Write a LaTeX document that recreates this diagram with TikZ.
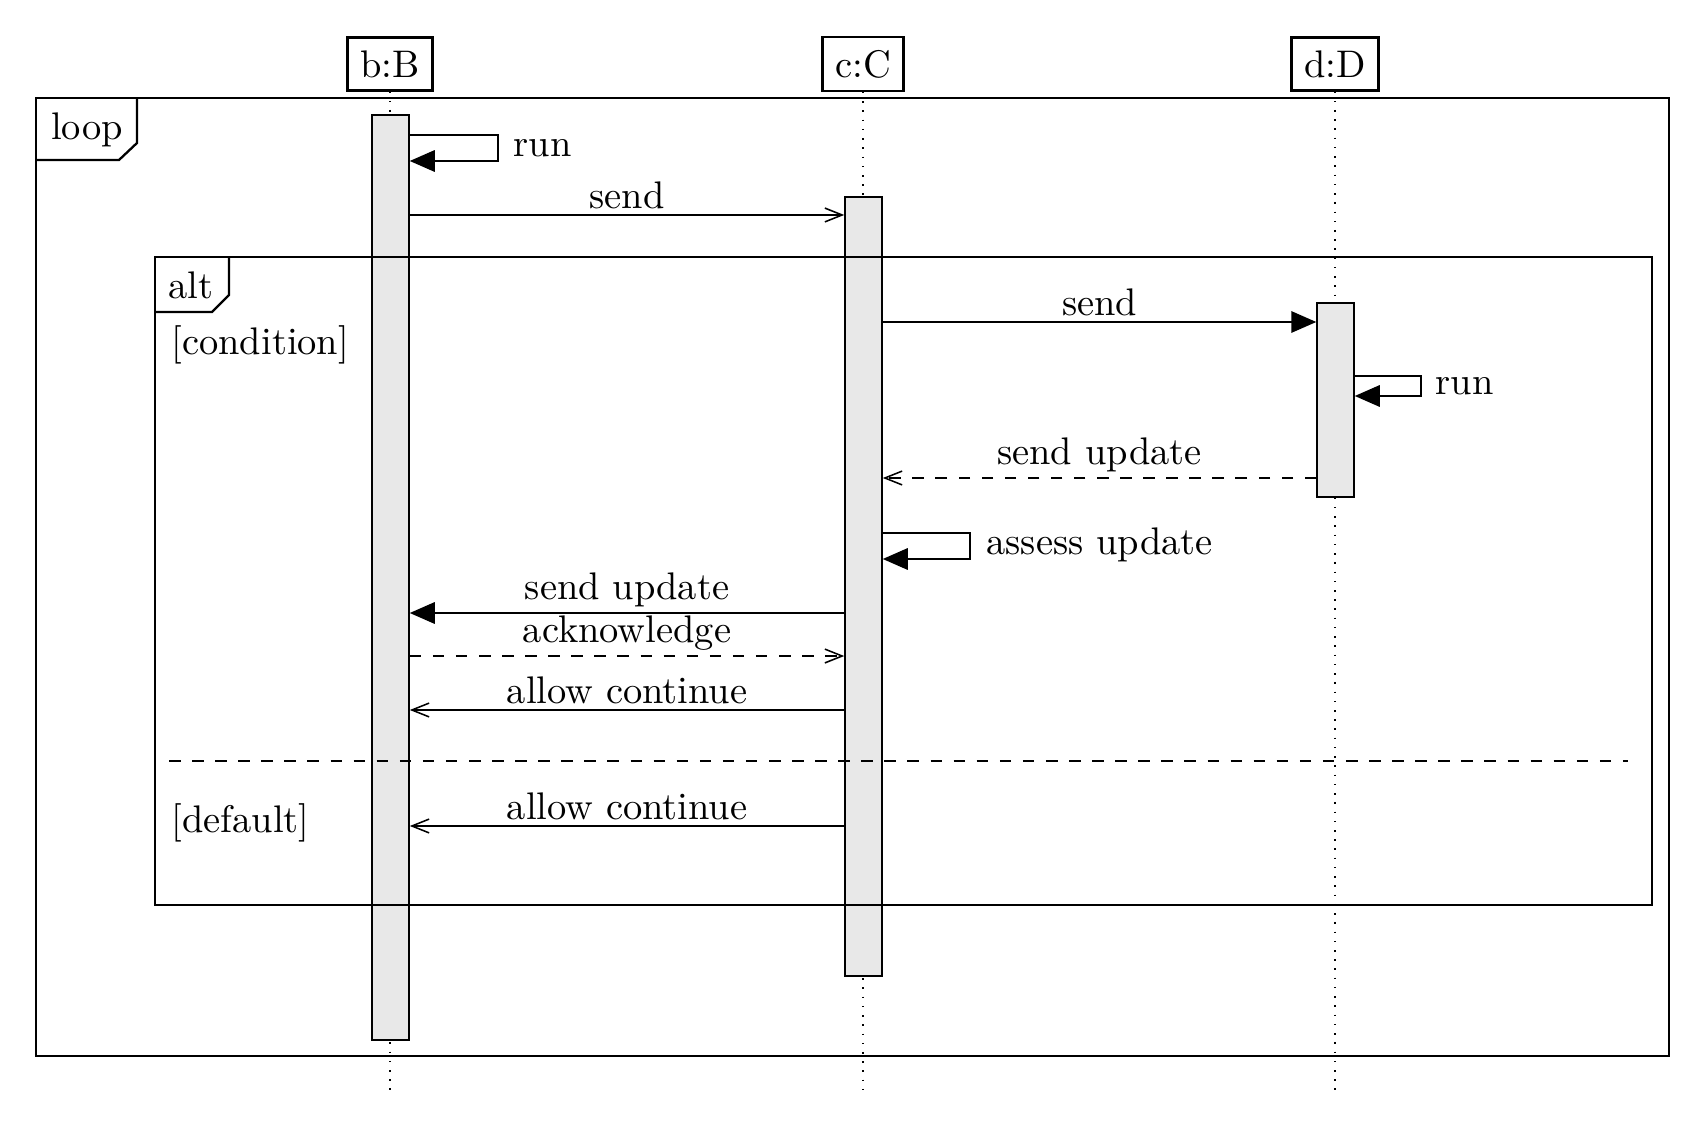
\documentclass[tikz,border=0pt]{standalone}
\usetikzlibrary{arrows.meta,fit}

\tikzset{
  obj/.style={draw, semithick, fill=white},
  actbar/.style={draw, fill=black!9, inner sep=0pt},
  lifeline/.style={dotted},
  fragment/.style={semithick},
  call/.style={-{Triangle[length=6.5pt,width=5.6pt]}},
  reply/.style={-{Straight Barb[length=4.5pt,width=3.6pt]}},
  msglabel/.style={midway, above, inner sep=1.3pt},
}

\begin{document}
\begin{tikzpicture}[x=0.26pt, y=-0.26pt]
  \useasboundingbox (0,0) rectangle (1705,1133);

  % objects and their lifelines
  \node[obj] (objB) at (390,64) {b:B};
  \node[obj] (objC) at (863,64) {c:C};
  \node[obj] (objD) at (1335,64) {d:D};

  \draw[lifeline] (objB) -- (objB |- 0,1095);
  \draw[lifeline] (objC) -- (objC |- 0,1095);
  \draw[lifeline] (objD) -- (objD |- 0,1095);

  % activations
  \node[actbar, fit={(372,115) (409,1040)}] (actB) {};
  \node[actbar, fit={(845,197) (882,976)}] (actC) {};
  \node[actbar, fit={(1317,303) (1354,497)}] (actD) {};

  % messages
  \draw[call] (actB.east |- 0,135) -| (498,161) -- (actB.east |- 0,161);
  \node[anchor=west] (runB) at (500,148) {run};

  \draw[reply] (actB.east |- 0,215) -- (actC.west |- 0,215) node[msglabel] {send};
  \draw[call] (actC.east |- 0,322) -- (actD.west |- 0,322) node[msglabel] {send};

  \draw[call] (actD.east |- 0,376) -| (1421,396) -- (actD.east |- 0,396);
  \node[anchor=west] (runD) at (1422,386) {run};

  \draw[reply, dashed] (actD.west |- 0,478) -- (actC.east |- 0,478) node[msglabel] {send update};

  \draw[call] (actC.east |- 0,533) -| (970,559) -- (actC.east |- 0,559);
  \node[anchor=west] (assessC) at (973,545) {assess update};

  \draw[call] (actC.west |- 0,613) -- (actB.east |- 0,613) node[msglabel] {send update};
  \draw[reply, dashed] (actB.east |- 0,656) -- (actC.west |- 0,656) node[msglabel] {acknowledge};
  \draw[reply] (actC.west |- 0,710) -- (actB.east |- 0,710) node[msglabel] {allow continue};
  \draw[reply] (actC.west |- 0,826) -- (actB.east |- 0,826) node[msglabel] {allow continue};

  % loop fragment
  \draw[fragment] (36,98) rectangle (1669,1056);
  \draw[fragment] (36,160) -- (119,160) -- (137,143) -- (137,98);
  \node (loopLbl) at (87,130) {loop};

  % alt fragment
  \draw[fragment] (155,257) rectangle (1652,905);
  \draw[fragment] (155,312) -- (212,312) -- (229,295) -- (229,257);
  \node (altLbl) at (191,285) {alt};
  \node[anchor=west] (condLbl) at (158,345) {[condition]};
  \draw[dashed] (169,761) -- (1628,761);
  \node[anchor=west] (defaultLbl) at (158,823) {[default]};
\end{tikzpicture}
\end{document}
